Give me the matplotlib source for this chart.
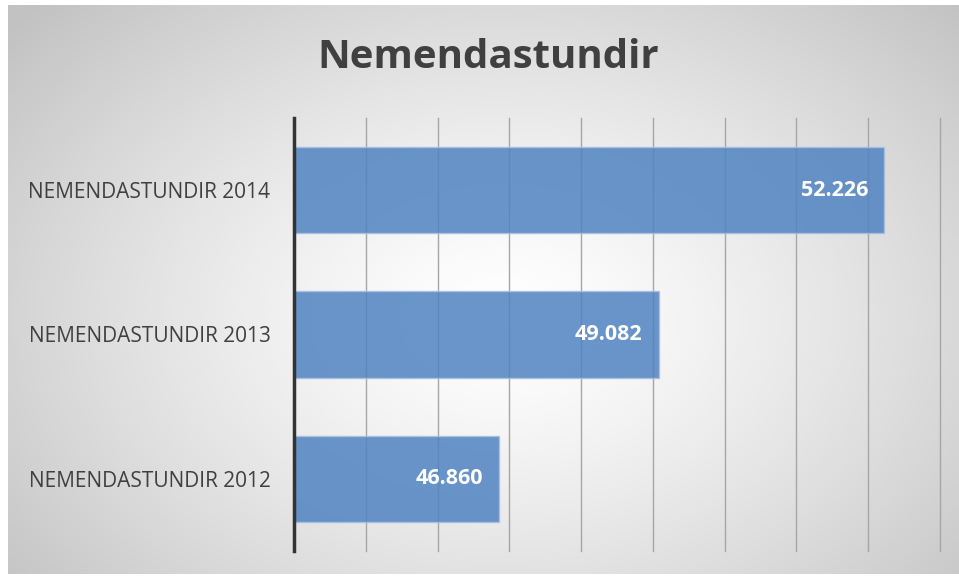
import matplotlib.pyplot as plt
import numpy as np

categories = ["NEMENDASTUNDIR 2012", "NEMENDASTUNDIR 2013", "NEMENDASTUNDIR 2014"]
values = [46860, 49082, 52226]
labels = ["46.860", "49.082", "52.226"]
x_min, x_max, x_step = 44000, 53000, 1000

W, H = 959, 577
fig = plt.figure(figsize=(W / 100, H / 100), dpi=100)
fig.patch.set_facecolor("white")

# radial grey background of the chart area
bg = fig.add_axes([8 / W, 3 / H, (W - 8) / W, (H - 8) / H])
yy, xx = np.mgrid[0:1:300j, 0:1:500j]
r = np.sqrt(((xx - 0.52) / 0.72) ** 2 + ((yy - 0.55) / 0.85) ** 2)
shade = np.clip(1.0 - 0.26 * r ** 1.3, 0.76, 1.0)
bg.imshow(shade, cmap="gray", vmin=0, vmax=1, aspect="auto",
          extent=[0, 1, 0, 1], interpolation="bicubic")
bg.set_axis_off()

ax = fig.add_axes([294 / W, (H - 551) / H, (940 - 294) / W, (551 - 118) / H])
ax.patch.set_alpha(0)

pos = np.arange(len(categories))
bars = ax.barh(pos, [v - x_min for v in values], left=x_min, height=0.6,
               color="#4f83c2", alpha=0.85, edgecolor="#a9c1e0", linewidth=1,
               zorder=3)
for b, lab in zip(bars, labels):
    ax.text(b.get_x() + b.get_width() - (x_max - x_min) * 0.025,
            b.get_y() + b.get_height() / 2, lab, ha="right", va="center",
            color="white", fontsize=15.5, fontweight="bold",
            family="Open Sans", zorder=4)

ax.set_xlim(x_min, x_max)
ax.set_ylim(-0.5, len(categories) - 0.5)
ax.set_xticks(np.arange(x_min, x_max + 1, x_step))
ax.tick_params(axis="x", length=0, labelbottom=False)
for gx in np.arange(x_min + x_step, x_max + 1, x_step):
    ax.axvline(gx, color="#a6a6a6", linewidth=1, zorder=0, clip_on=False)
ax.set_yticks(pos)
ax.set_yticklabels(categories, fontsize=15, color="#404040", family="Open Sans")
ax.tick_params(axis="y", length=0, pad=17)
for s in ["top", "right", "bottom"]:
    ax.spines[s].set_visible(False)
ax.spines["left"].set_color("#333333")
ax.spines["left"].set_linewidth(2.5)
ax.spines["left"].set_zorder(5)

fig.text(488 / W, 1 - 57 / H, "Nemendastundir", ha="center", va="center",
         fontsize=29, fontweight="bold", color="#404040", family="Open Sans")

fig.savefig("out.png", dpi=100)
